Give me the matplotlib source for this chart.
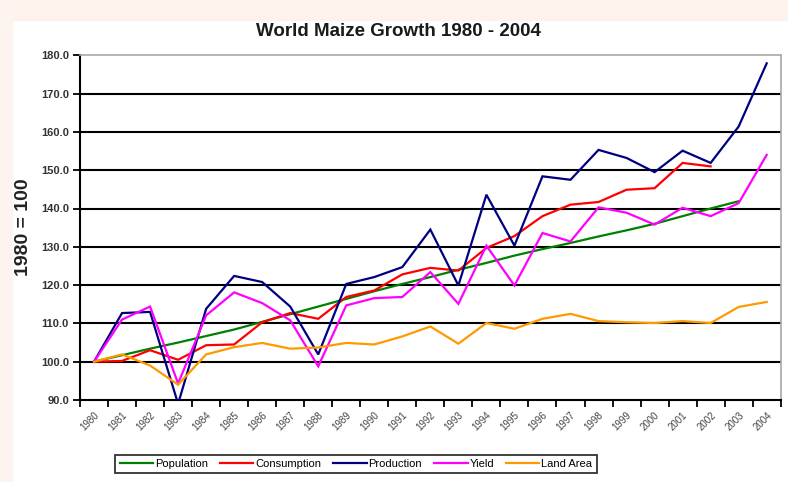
import numpy as np
import matplotlib
matplotlib.use('Agg')
import matplotlib.pyplot as plt
from matplotlib.ticker import FixedLocator, NullFormatter

plt.rcParams['font.family'] = ['Liberation Sans', 'DejaVu Sans']

# ── data (1980 = 100) ────────────────────────────────────────────────────────
years = [str(y) for y in range(1980, 2005)]

population = [100.0, 101.7, 103.4, 105.0, 106.7, 108.4, 110.4, 112.4, 114.4,
              116.4, 118.4, 120.3, 122.1, 124.0, 125.8, 127.7, 129.4, 131.0,
              132.7, 134.3, 136.0, 138.0, 140.0, 141.9]
consumption = [100.0, 100.2, 103.0, 100.5, 104.3, 104.5, 110.3, 112.7, 111.2,
               116.9, 118.6, 122.8, 124.5, 123.8, 129.7, 132.8, 138.0, 141.0,
               141.7, 144.9, 145.3, 151.9, 151.0]
production = [100.0, 112.7, 113.0, 89.0, 113.8, 122.4, 120.8, 114.4, 101.9,
              120.3, 122.1, 124.7, 134.5, 119.9, 143.6, 130.3, 148.4, 147.5,
              155.3, 153.2, 149.5, 155.1, 151.9, 161.4, 177.9]
yield_ = [100.0, 111.0, 114.4, 94.3, 112.1, 118.1, 115.3, 110.8, 98.8,
          114.7, 116.6, 116.9, 123.4, 115.1, 130.3, 119.9, 133.6, 131.4,
          140.3, 138.9, 135.8, 140.2, 138.0, 141.4, 154.0]
land_area = [100.0, 101.9, 99.0, 94.0, 101.9, 103.8, 104.9, 103.4, 103.7,
             104.9, 104.5, 106.6, 109.2, 104.7, 110.1, 108.6, 111.2, 112.5,
             110.6, 110.3, 110.1, 110.6, 110.1, 114.3, 115.6]

series = [
    ('Population', population, '#008000'),
    ('Consumption', consumption, '#ff0000'),
    ('Production', production, '#000080'),
    ('Yield', yield_, '#ff00ff'),
    ('Land Area', land_area, '#ff9900'),
]

y_ticks = [90, 100, 110, 120, 130, 140, 150, 160, 170, 180]

# ── figure ───────────────────────────────────────────────────────────────────
fig = plt.figure(figsize=(7.88, 4.82), dpi=100)
fig.patch.set_facecolor('white')
# faint slide background at top and left edge
fig.patches.append(plt.Rectangle((0, 1 - 20 / 482), 1, 20 / 482,
                                 transform=fig.transFigure,
                                 color='#fdf2ec', zorder=-1))
fig.patches.append(plt.Rectangle((0, 0), 12 / 788, 1,
                                 transform=fig.transFigure,
                                 color='#fdf4ef', zorder=-1))

ax = fig.add_axes([80 / 788, 1 - 400 / 482, 700.7 / 788, 344.7 / 482])

x = np.arange(len(years))
for name, vals, col in series:
    ax.plot(x[:len(vals)], vals, color=col, lw=1.6, label=name,
            solid_joinstyle='miter', zorder=3)

ax.set_xlim(-0.5, len(years) - 0.5)
ax.set_ylim(90, 180)

# horizontal gridlines
for v in y_ticks[1:-1]:
    ax.axhline(v, color='black', lw=1.5, zorder=1)

ax.set_yticks(y_ticks)
ax.set_yticklabels([f'{v:.1f}' for v in y_ticks], fontsize=8,
                   fontweight='bold', color='#333333')

# labels at category centres, tick marks at boundaries
ax.xaxis.set_major_locator(FixedLocator(x))
ax.set_xticklabels(years, rotation=45, ha='right', va='top',
                   rotation_mode='anchor', fontsize=7, color='#444444')
ax.tick_params(axis='x', which='major', length=0, pad=7)
ax.xaxis.set_minor_locator(FixedLocator(np.arange(-0.5, len(years), 1.0)))
ax.xaxis.set_minor_formatter(NullFormatter())
ax.tick_params(axis='x', which='minor', length=5, width=1.3,
               direction='out', color='black')
ax.tick_params(axis='y', length=5, width=1.3, direction='out', pad=3)

for side in ['left', 'bottom']:
    ax.spines[side].set_color('black')
    ax.spines[side].set_linewidth(1.5)
for side in ['top', 'right']:
    ax.spines[side].set_color('#a8a8a8')
    ax.spines[side].set_linewidth(1.2)

ax.set_ylabel('1980 = 100', fontsize=14, fontweight='bold', color='#222222')
ax.yaxis.set_label_coords(-48 / 700.7, 0.5)

fig.text(398 / 788, 1 - 32 / 482, 'World Maize Growth 1980 - 2004',
         ha='center', va='center', fontsize=13.5, fontweight='bold',
         color='#1a1a1a')

leg = fig.legend(loc='center', bbox_to_anchor=(356 / 788, 1 - 464 / 482),
                 ncol=5, fontsize=8, frameon=True, fancybox=False,
                 edgecolor='black', handlelength=3.0, handletextpad=0.15,
                 columnspacing=1.1, borderpad=0.4, borderaxespad=0)
leg.get_frame().set_linewidth(1.3)

fig.savefig('out.png', dpi=100, facecolor=fig.get_facecolor())
